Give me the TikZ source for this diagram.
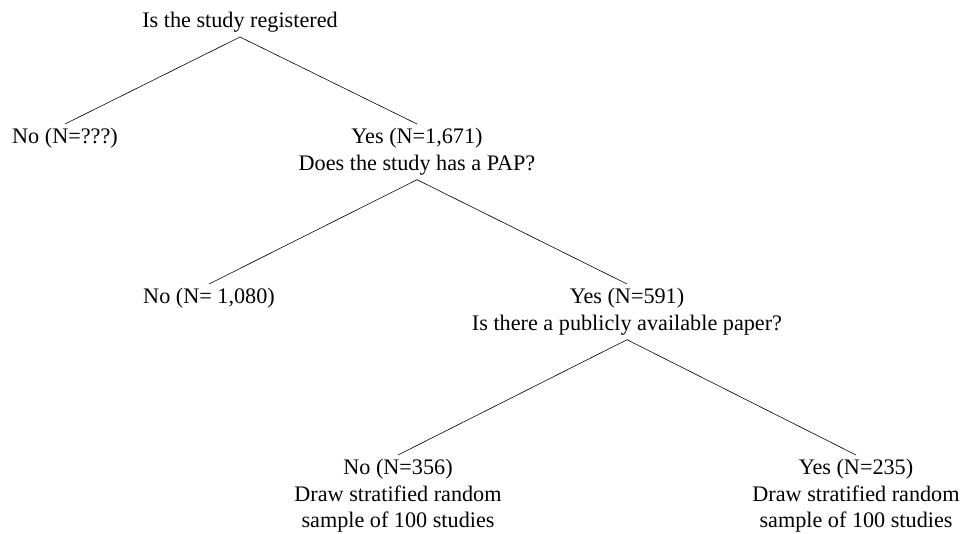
\documentclass[tikz,border=0pt]{standalone}
\usepackage{fontspec}
\setmainfont{Liberation Serif}
\begin{document}
\begin{tikzpicture}[x=1pt, y=-1pt, outer sep=0pt, line width=0.6pt]

\tikzstyle{txt}=[align=center, inner sep=4.5pt, font=\fontsize{22.2}{26.5}\selectfont]
\tikzstyle{leaf}=[txt, anchor=north]

\useasboundingbox (0,0) rectangle (960,533);

\node[txt, anchor=south] (registered) at (240,37) {Is the study registered};
\node[leaf] (notreg) at (65,124) {No (N=???)};
\node[leaf] (hasreg) at (417,124) {Yes (N=1,671)\\Does the study has a PAP?};
\node[leaf] (nopap) at (209,284) {No (N= 1,080)};
\node[leaf] (haspap) at (627,284) {Yes (N=591)\\Is there a publicly available paper?};
\node[leaf] (nopaper) at (398,455) {No (N=356)\\Draw stratified random\\sample of 100 studies};
\node[leaf] (haspaper) at (856,455) {Yes (N=235)\\Draw stratified random\\sample of 100 studies};

\draw (registered.south) -- (notreg.north);
\draw (registered.south) -- (hasreg.north);
\draw (hasreg.south) -- (nopap.north);
\draw (hasreg.south) -- (haspap.north);
\draw (haspap.south) -- (nopaper.north);
\draw (haspap.south) -- (haspaper.north);
\end{tikzpicture}
\end{document}
